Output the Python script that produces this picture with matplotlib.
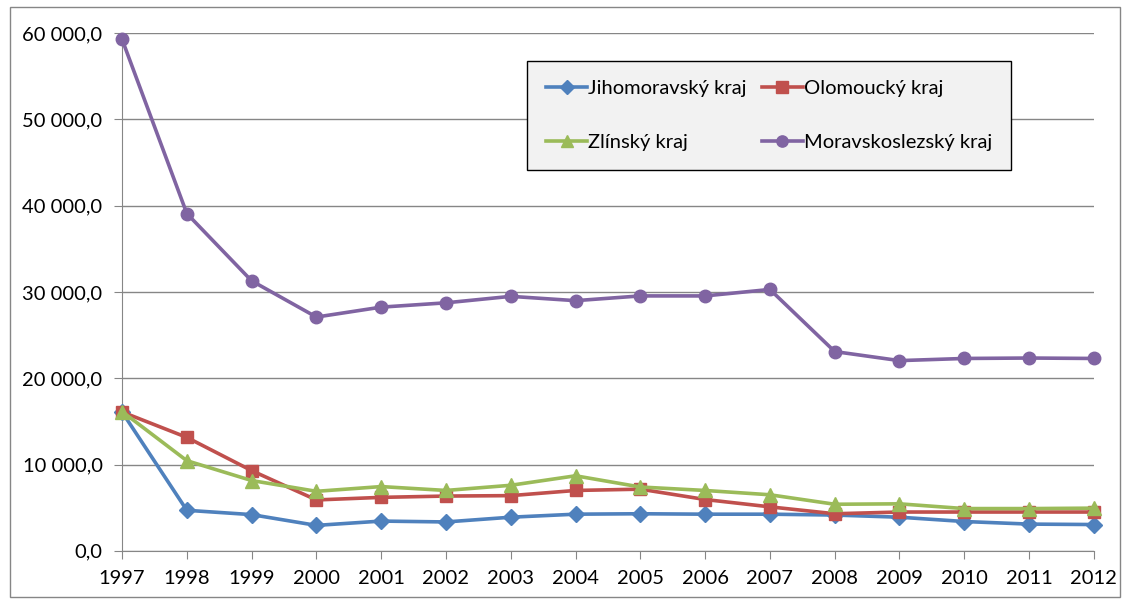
import matplotlib
matplotlib.use("Agg")
import matplotlib.pyplot as plt
from matplotlib.patches import Rectangle
from matplotlib.ticker import FuncFormatter

years = list(range(1997, 2013))
jihomoravsky = [16100, 4700, 4200, 2950, 3450, 3350, 3900, 4250, 4300, 4250, 4250, 4150, 3900, 3400, 3100, 3050]
olomoucky = [16100, 13150, 9300, 5900, 6200, 6350, 6400, 7000, 7150, 5950, 5100, 4300, 4500, 4500, 4500, 4500]
zlinsky = [16150, 10450, 8150, 6900, 7450, 7000, 7600, 8700, 7400, 7000, 6500, 5400, 5450, 4900, 4900, 4950]
moravskoslezsky = [59300, 39100, 31300, 27100, 28250, 28750, 29500, 29000, 29550, 29550, 30300, 23100, 22050, 22300, 22350, 22300]

labels = ["Jihomoravský kraj", "Olomoucký kraj", "Zlínský kraj", "Moravskoslezský kraj"]
colors = ["#4F81BD", "#C0504D", "#9BBB59", "#8064A2"]
markers = ["D", "s", "^", "o"]
msizes = [8, 9, 10, 9]

plt.rcParams["font.family"] = ["Lato", "DejaVu Sans"]

fig = plt.figure(figsize=(11.3, 6.04), dpi=100)
ax = fig.add_axes([0.108, 0.088, 0.860, 0.857])

# gray frame around the whole chart area
fig.patches.append(Rectangle((10 / 1130, 7 / 604), 1110 / 1130, 590 / 604,
                             transform=fig.transFigure, fill=False,
                             edgecolor="#868686", linewidth=1))

handles = []
for vals, lab, col, mk, ms in zip([jihomoravsky, olomoucky, zlinsky, moravskoslezsky],
                                  labels, colors, markers, msizes):
    h, = ax.plot(years, vals, color=col, marker=mk, markersize=ms, linewidth=2.6,
                 label=lab, zorder=3, clip_on=False)
    handles.append(h)

ax.set_xlim(1997, 2012)
ax.set_ylim(0, 60000)
ax.set_xticks(years)
ax.set_yticks(range(0, 60001, 10000))
ax.yaxis.set_major_formatter(FuncFormatter(lambda v, p: f"{int(v):,}".replace(",", " ") + ",0"))
ax.grid(axis="y", color="#868686", linewidth=1)
ax.set_axisbelow(True)
for side in ["top", "right"]:
    ax.spines[side].set_visible(False)
for side in ["left", "bottom"]:
    ax.spines[side].set_color("#868686")
ax.tick_params(axis="both", colors="#868686", labelcolor="black", labelsize=14.5,
               length=6, direction="out")
ax.tick_params(axis="x", pad=8)
ax.tick_params(axis="y", pad=8)

order = [0, 2, 1, 3]
leg = ax.legend([handles[i] for i in order], [labels[i] for i in order], ncol=2,
                loc="upper left", bbox_to_anchor=(0.417, 0.947), borderaxespad=0,
                fontsize=14.5, frameon=True, fancybox=False, framealpha=1,
                facecolor="#F2F2F2", edgecolor="black", handlelength=2.0,
                handletextpad=0.05, columnspacing=0.8, labelspacing=1.85,
                borderpad=0.95, markerscale=0.9)
leg.get_frame().set_linewidth(1)

fig.savefig("out.png", dpi=100)
